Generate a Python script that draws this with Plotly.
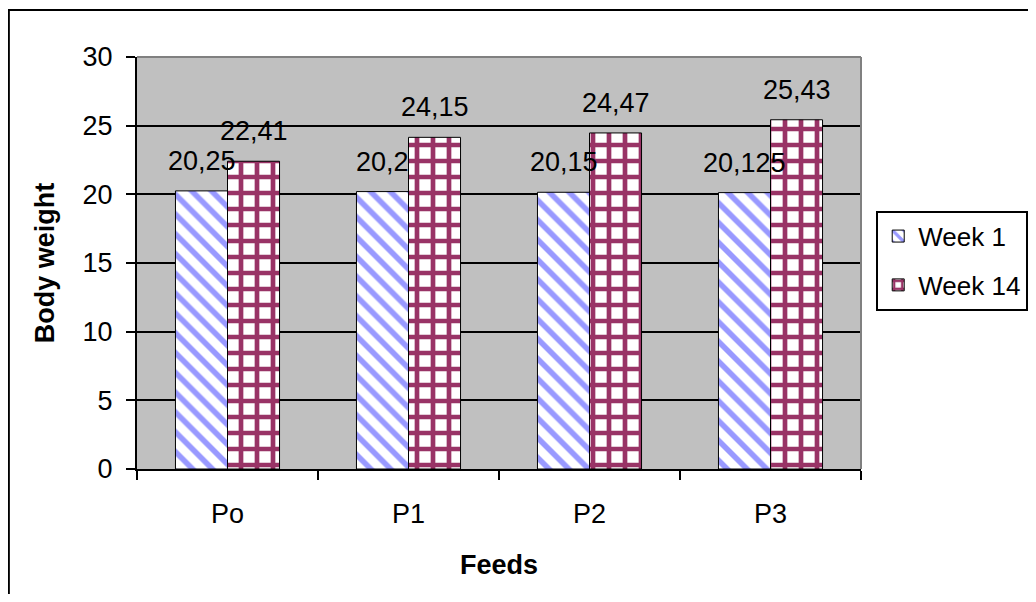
import plotly.graph_objects as go

categories = ["Po", "P1", "P2", "P3"]
week1 = [20.25, 20.2, 20.15, 20.125]
week14 = [22.41, 24.15, 24.47, 25.43]
series_names = ["Week 1", "Week 14"]
y_ticks = [0, 5, 10, 15, 20, 25, 30]

FONT = "Liberation Sans, Arial, sans-serif"
FS = 27
BLUE = "#9999FF"
MAROON = "#993366"

def fmt(v):
    return str(v).replace(".", ",")

fig = go.Figure()
fig.add_trace(go.Bar(
    name=series_names[0], x=categories, y=week1, legendgroup="a",
    marker=dict(color="white", line=dict(color="black", width=1),
                pattern=dict(shape="\\", fgcolor=BLUE, bgcolor="white",
                             size=14, solidity=0.4, fillmode="replace")),
))
fig.add_trace(go.Bar(
    name=series_names[1], x=categories, y=week14, legendgroup="b",
    marker=dict(color="white", line=dict(color="black", width=1),
                pattern=dict(shape="+", fgcolor=MAROON, bgcolor="white",
                             size=16, solidity=0.5, fillmode="replace")),
))

annotations = []
for series, shift in ((week1, -26), (week14, 26)):
    for c, v in zip(categories, series):
        annotations.append(dict(x=c, y=v, text=fmt(v), showarrow=False,
                                xshift=shift, yshift=30, yanchor="middle",
                                font=dict(family=FONT, size=FS, color="black")))

fig.update_layout(
    width=1020, height=586,
    margin=dict(l=129, r=167, t=49, b=125, autoexpand=False),
    paper_bgcolor="white", plot_bgcolor="#C0C0C0",
    barmode="group", bargap=0.425, bargroupgap=0,
    font=dict(family=FONT, size=FS, color="black"),
    annotations=annotations,
    legend=dict(x=1.021, y=0.627, xanchor="left", yanchor="top",
                bgcolor="white", bordercolor="black", borderwidth=2,
                font=dict(family=FONT, size=26, color="black"),
                itemwidth=30, traceorder="grouped", tracegroupgap=12),
    shapes=[
        dict(type="rect", xref="paper", yref="paper",
             x0=-0.177, x1=1.4, y0=-0.4, y1=1.114,
             line=dict(color="black", width=2), layer="below"),
        dict(type="line", xref="paper", yref="paper", x0=0, x1=1, y0=1, y1=1,
             line=dict(color="#808080", width=2), layer="above"),
        dict(type="line", xref="paper", yref="paper", x0=1, x1=1, y0=0, y1=1,
             line=dict(color="#808080", width=2), layer="above"),
    ],
)
fig.update_xaxes(
    type="category", showline=True, linecolor="black", linewidth=2,
    ticks="outside", ticklen=9, tickcolor="black", tickwidth=2,
    tickson="boundaries", showgrid=False, ticklabelstandoff=20,
    title=dict(text="<b>Feeds</b>", standoff=27,
               font=dict(family=FONT, size=FS, color="black")),
)
fig.update_yaxes(
    range=[0, 30], tickvals=y_ticks, showline=True, linecolor="black", linewidth=2,
    ticks="outside", ticklen=9, tickcolor="black", tickwidth=2,
    showgrid=True, gridcolor="black", gridwidth=2, zeroline=False,
    ticklabelstandoff=8,
    title=dict(text="<b>Body weight</b>", standoff=20,
               font=dict(family=FONT, size=FS, color="black")),
)
fig.write_html("out.html")
